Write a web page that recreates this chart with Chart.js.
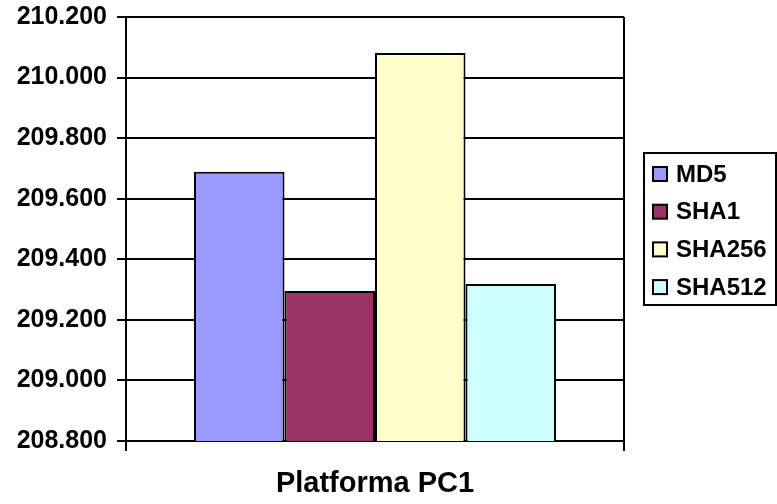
<!DOCTYPE html>
<html>
<head>
<meta charset="utf-8">
<title>Platforma PC1</title>
<script src="https://cdn.jsdelivr.net/npm/chart.js@4/dist/chart.umd.min.js"></script>
<style>
  html, body { margin: 0; padding: 0; background: #fff; }
  #wrap { width: 777px; height: 504px; }
</style>
</head>
<body>
<div id="wrap"><canvas id="c" width="777" height="504"></canvas></div>
<script>
// Category and series
const categories = ['Platforma PC1'];
const seriesNames = ['MD5', 'SHA1', 'SHA256', 'SHA512'];
const seriesValues = [
  [209.689],
  [209.295],
  [210.081],
  [209.318]
];
const seriesColors = ['#9999FF', '#993366', '#FFFFCC', '#CCFFFF'];

// Value axis
const axisMin = 208.8;
const axisMax = 210.2;
const axisStep = 0.2;

const FONT = '"Liberation Sans", Arial, Helvetica, sans-serif';

// Boxed legend on the right, built from the dataset list
const boxedLegend = {
  id: 'boxedLegend',
  afterDraw(chart) {
    const ctx = chart.ctx;
    const ds = chart.data.datasets;
    const left = 644, top = 153, right = 776, bottom = 305;
    ctx.save();
    ctx.strokeStyle = '#000';
    ctx.lineWidth = 2;
    ctx.strokeRect(left, top, right - left, bottom - top);
    ctx.font = 'bold 24px ' + FONT;
    ctx.textBaseline = 'middle';
    ctx.textAlign = 'left';
    ds.forEach((d, i) => {
      const cy = 174 + i * 37.7;
      ctx.fillStyle = d.backgroundColor;
      ctx.fillRect(653, cy - 7, 14, 14);
      ctx.lineWidth = 2;
      ctx.strokeStyle = '#000';
      ctx.strokeRect(653, cy - 7, 14, 14);
      ctx.fillStyle = '#000';
      ctx.fillText(d.label, 676, cy + 1);
    });
    ctx.restore();
  }
};

new Chart(document.getElementById('c'), {
  type: 'bar',
  data: {
    labels: categories,
    datasets: seriesNames.map((name, i) => ({
      label: name,
      data: seriesValues[i],
      backgroundColor: seriesColors[i],
      borderColor: '#000',
      borderWidth: 2,
      borderSkipped: false,
      barPercentage: 1.0,
      categoryPercentage: 0.727
    }))
  },
  options: {
    responsive: false,
    animation: false,
    devicePixelRatio: 1,
    layout: { padding: { top: 17, right: 153, left: 0, bottom: 0 } },
    plugins: {
      legend: { display: false },
      tooltip: { enabled: false },
      title: { display: false }
    },
    scales: {
      y: {
        min: axisMin,
        max: axisMax,
        afterFit(scale) {
          scale.width = 126;
          scale.paddingTop = 0;
          scale.paddingBottom = 0;
        },
        ticks: {
          stepSize: axisStep,
          color: '#000',
          padding: 10,
          font: { family: FONT, size: 25, weight: 'bold' },
          callback: (v) => Number(v).toFixed(3)
        },
        grid: {
          color: '#000',
          lineWidth: 2,
          tickLength: 9,
          tickColor: '#000'
        },
        border: { display: true, color: '#000', width: 2 }
      },
      x: {
        offset: true,
        afterFit(scale) {
          scale.height = 63;
          scale.paddingLeft = 0;
          scale.paddingRight = 0;
        },
        ticks: {
          color: '#000',
          padding: 16,
          font: { family: FONT, size: 29, weight: 'bold' }
        },
        grid: {
          offset: true,
          color: '#000',
          lineWidth: 2,
          tickLength: 10,
          tickColor: '#000',
          drawOnChartArea: true
        },
        border: { display: true, color: '#000', width: 2 }
      }
    }
  },
  plugins: [boxedLegend]
});
</script>
</body>
</html>
